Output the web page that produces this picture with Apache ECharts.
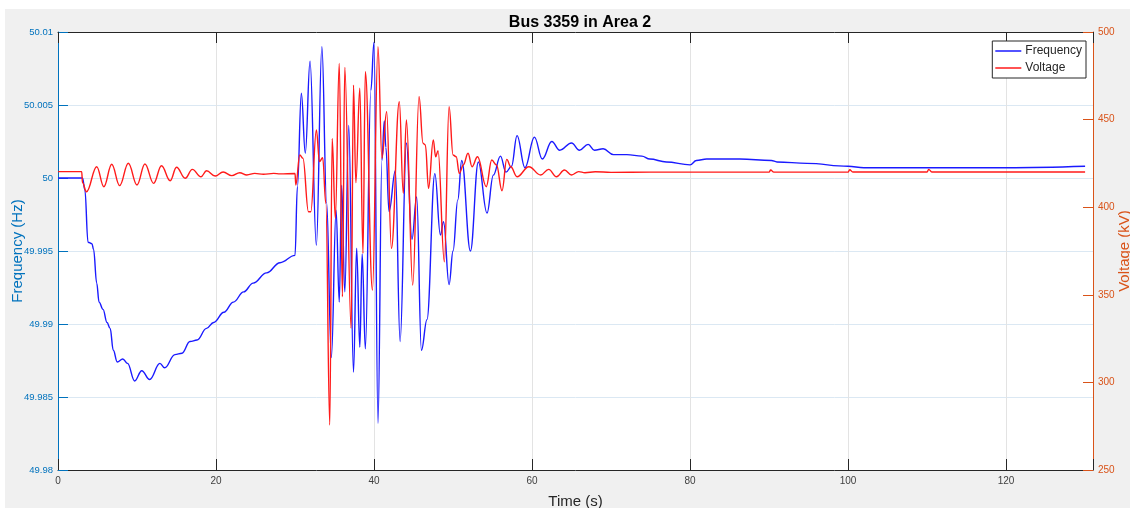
<!DOCTYPE html>
<html>
<head>
<meta charset="utf-8">
<script src="https://cdn.jsdelivr.net/npm/echarts@6/dist/echarts.min.js"></script>
<style>
  html, body { margin: 0; padding: 0; background: #fff; }
  #chart { position: absolute; left: 5px; top: 9px; width: 1125px; height: 499px; background: #f0f0f0; }
</style>
</head>
<body>
<div id="chart"></div>
<script>
// Frequency (Hz) readings
const freqTime = [0, 3.1, 3.4, 3.8, 4.3, 4.5, 4.9, 5.2, 5.7, 6.2, 6.6, 7.0, 7.5, 8.2, 8.8, 9.7, 10.6, 11.6, 12.9, 13.5,
  14.8, 15.7, 16.7, 17.6, 18.8, 19.7, 21.0, 22.2, 23.5, 24.7, 26.4, 28.1, 30.0, 30.3, 30.8, 31.3, 31.9, 32.7, 33.4, 34.0,
  34.6, 35.2, 35.6, 35.9, 36.3, 36.8, 37.4, 37.8, 38.2, 38.5, 38.9, 39.6, 40.0, 40.5, 41.0, 41.3, 41.5, 41.9, 42.7, 43.3,
  44.1, 44.8, 45.4, 46.0, 46.7, 47.7, 48.4, 48.8, 49.5, 50.0, 50.6, 51.1, 52.2, 53.2, 54.3, 55.1, 56.0, 56.7, 57.4, 58.1,
  59.1, 60.3, 61.3, 62.5, 63.5, 65.0, 66.0, 67.1, 67.9, 69.0, 70.3, 72.0, 73.9, 74.9, 77.0, 80.0, 80.8, 82.1, 84.2, 86.3,
  90.3, 91.0, 94.8, 100.0, 102.0, 110.0, 111.6, 120.1, 130.0];
const freqVal = [50.0000, 50.0000, 49.9992, 49.9956, 49.9955, 49.9951, 49.9928, 49.9915, 49.9910, 49.9901, 49.9897, 49.9882, 49.9874, 49.9876, 49.9873, 49.9861, 49.9868, 49.9862, 49.9873, 49.9870,
  49.9879, 49.9880, 49.9888, 49.9889, 49.9897, 49.9901, 49.9908, 49.9915, 49.9922, 49.9928, 49.9935, 49.9942, 49.9947, 49.9994, 50.0058, 50.0017, 50.0080, 49.9954, 50.0090, 49.9983,
  49.9877, 49.9978, 49.9915, 49.9995, 49.9922, 50.0036, 49.9867, 49.9952, 49.9884, 49.9948, 49.9883, 50.0060, 50.0093, 49.9832, 50.0012, 50.0039, 50.0021, 49.9977, 50.0005, 49.9888,
  50.0024, 49.9958, 49.9987, 49.9882, 49.9903, 50.0003, 49.9961, 49.9970, 49.9927, 49.9950, 49.9985, 50.0012, 49.9950, 50.0011, 49.9976, 50.0002, 50.0015, 50.0004, 50.0008, 50.0029,
  50.0007, 50.0028, 50.0013, 50.0025, 50.0019, 50.0024, 50.0019, 50.0023, 50.0019, 50.0020, 50.0016, 50.0016, 50.0015, 50.0013, 50.0011, 50.0009, 50.0012, 50.0013, 50.0013, 50.0013,
  50.0012, 50.0011, 50.0010, 50.0008, 50.0007, 50.0007, 50.0007, 50.0007, 50.0008];

// Voltage (kV) readings
const voltTime = [0, 3.0, 3.1, 3.6, 4.9, 5.8, 6.8, 7.8, 8.9, 10.0, 11.0, 12.1, 13.1, 14.2, 15.0, 16.1, 17.0, 18.1, 18.8, 19.9,
  20.9, 22.0, 23.0, 23.9, 24.9, 26.0, 27.3, 28.1, 30.0, 30.1, 30.6, 31.0, 31.7, 32.0, 32.7, 33.1, 33.5, 33.9, 34.4, 34.7,
  35.1, 35.6, 36.0, 36.3, 37.1, 37.4, 37.7, 38.2, 38.6, 38.9, 39.8, 40.5, 41.0, 41.6, 42.2, 43.2, 43.7, 44.1, 44.9, 45.7,
  46.2, 46.5, 46.9, 47.5, 47.8, 48.1, 48.9, 49.5, 50.0, 50.4, 50.8, 51.3, 51.9, 52.4, 53.1, 54.2, 54.9, 55.5, 56.2, 56.8,
  57.3, 58.1, 59.6, 61.1, 62.1, 63.1, 64.1, 65.0, 65.9, 66.7, 68.0, 70.0, 75.0, 90.0, 90.2, 90.6, 100.0, 100.2, 100.6, 110.0,
  110.2, 110.6, 130.0];
const voltVal = [420.3, 420.3, 414.0, 408.8, 423.1, 411.7, 424.5, 412.3, 425.1, 412.7, 424.7, 413.6, 423.7, 415.1, 422.8, 416.5, 421.6, 417.4, 420.8, 417.8,
  420.1, 418.0, 419.7, 418.4, 419.3, 418.8, 419.3, 419.0, 419.2, 412.7, 429.8, 427.9, 397.4, 397.4, 444.1, 426.0, 428.3, 402.2, 275.7, 439.3,
  393.7, 482.1, 348.9, 479.8, 330.9, 469.7, 414.0, 467.9, 373.7, 477.4, 352.7, 491.6, 427.9, 454.5, 376.5, 460.2, 407.9, 449.8, 355.6, 463.1,
  436.5, 435.5, 410.8, 438.4, 428.8, 432.2, 368.9, 457.4, 429.8, 428.8, 419.3, 424.1, 430.8, 423.1, 428.8, 411.7, 426.9, 424.1, 409.4, 427.3,
  423.1, 417.4, 423.1, 418.4, 421.6, 417.4, 421.2, 418.4, 420.3, 419.7, 420.2, 419.9, 420.0, 420.0, 421.2, 420.0, 420.0, 421.4, 420.1, 420.1,
  421.6, 420.1, 420.1];

const freqTicks = [49.98, 50.01, 0.005];   // min, max, step
const voltTicks = [250, 500, 50];
const timeTicks = [0, 131, 20];

const BLUE_AX = '#0072BD';
const ORANGE_AX = '#D95319';
const DARK = '#262626';

const chart = echarts.init(document.getElementById('chart'));

const option = {
  animation: false,
  textStyle: { fontFamily: 'Liberation Sans, Arial, sans-serif' },
  title: {
    text: 'Bus 3359 in Area 2',
    left: 570,
    textAlign: 'center',
    top: 1,
    textStyle: { fontSize: 16, fontWeight: 'bold', color: '#000' }
  },
  legend: {
    orient: 'vertical',
    right: 44,
    top: 32,
    data: ['Frequency', 'Voltage'],
    icon: 'rect',
    itemWidth: 26,
    itemHeight: 1.5,
    itemGap: 3,
    padding: [3, 4, 3, 3],
    backgroundColor: '#fff',
    borderColor: DARK,
    borderWidth: 1,
    borderRadius: 0,
    textStyle: { fontSize: 12, lineHeight: 14, color: DARK, padding: [0, 0, 0, -1] }
  },
  grid: {
    left: 53, top: 23, right: 37, bottom: 38,
    containLabel: false, outerBoundsMode: 'none',
    show: true, backgroundColor: '#fff', borderWidth: 0
  },
  xAxis: [
    {
      type: 'value', min: timeTicks[0], max: timeTicks[1], interval: timeTicks[2],
      name: 'Time (s)', nameLocation: 'middle', nameGap: 24,
      nameTextStyle: { fontSize: 15, color: DARK },
      axisLine: { onZero: false, lineStyle: { color: DARK } },
      axisTick: { inside: true, length: 11, lineStyle: { color: DARK } },
      axisLabel: { fontSize: 10, color: '#404040', margin: 6,
        formatter: v => (v % 20 === 0 ? String(v) : '') },
      splitLine: { show: true, lineStyle: { color: '#e3e3e3' } }
    },
    {
      type: 'value', position: 'top', min: timeTicks[0], max: timeTicks[1], interval: timeTicks[2],
      axisLine: { onZero: false, lineStyle: { color: DARK } },
      axisTick: { inside: true, length: 11, lineStyle: { color: DARK } },
      axisLabel: { show: false },
      splitLine: { show: false }
    }
  ],
  yAxis: [
    {
      type: 'value', min: freqTicks[0], max: freqTicks[1], interval: freqTicks[2],
      name: 'Frequency (Hz)', nameLocation: 'middle', nameGap: 33, nameMoveOverlap: false,
      nameTextStyle: { fontSize: 15, color: BLUE_AX },
      axisLine: { show: true, onZero: false, lineStyle: { color: BLUE_AX } },
      axisTick: { show: true, inside: true, length: 10, lineStyle: { color: BLUE_AX } },
      axisLabel: { fontSize: 9.5, color: BLUE_AX, margin: 5,
        formatter: v => String(parseFloat(v.toFixed(3))) },
      splitLine: { show: true, lineStyle: { color: '#dbe8f3' } }
    },
    {
      type: 'value', position: 'right', min: voltTicks[0], max: voltTicks[1], interval: voltTicks[2],
      name: 'Voltage (kV)', nameLocation: 'middle', nameGap: 24, nameMoveOverlap: false,
      nameTextStyle: { fontSize: 15, color: ORANGE_AX },
      axisLine: { show: true, onZero: false, lineStyle: { color: ORANGE_AX } },
      axisTick: { show: true, inside: true, length: 10, lineStyle: { color: ORANGE_AX } },
      axisLabel: { fontSize: 10, color: ORANGE_AX, margin: 5 },
      splitLine: { show: false }
    }
  ],
  series: [
    {
      name: 'Frequency', type: 'line', yAxisIndex: 0,
      data: freqTime.map((t, i) => [t, freqVal[i]]),
      symbol: 'none', smooth: 0.4, smoothMonotone: 'x',
      lineStyle: { color: '#1a1aff', width: 1.4 },
      itemStyle: { color: '#1a1aff' }
    },
    {
      name: 'Voltage', type: 'line', yAxisIndex: 1,
      data: voltTime.map((t, i) => [t, voltVal[i]]),
      symbol: 'none', smooth: 0.4, smoothMonotone: 'x',
      lineStyle: { color: '#ff1a1a', width: 1.4 },
      itemStyle: { color: '#ff1a1a' }
    }
  ]
};

chart.setOption(option);
</script>
</body>
</html>
